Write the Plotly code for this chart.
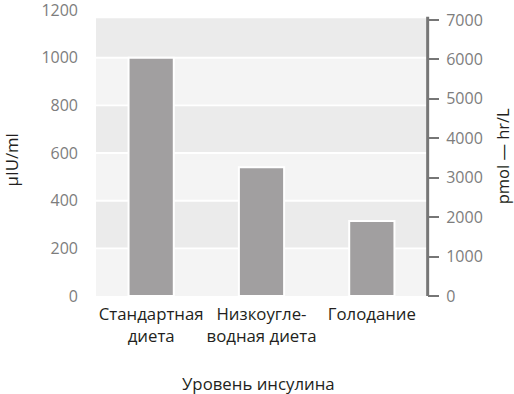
import plotly.graph_objects as go

categories = ["Стандартная<br>диета", "Низкоугле-<br>водная диета", "Голодание"]
insulin_uiu = [1000, 540, 315]
left_ticks = [0, 200, 400, 600, 800, 1000, 1200]
right_ticks = [0, 1000, 2000, 3000, 4000, 5000, 6000, 7000]

FONT = "Open Sans"
TICK_GREY = "#7d7d7d"
TEXT = "#231f20"

fig = go.Figure()
fig.add_trace(go.Bar(
    x=categories, y=insulin_uiu,
    marker=dict(color="#a19fa0", line=dict(color="white", width=2)),
    yaxis="y", showlegend=False,
))
# invisible trace to activate the right axis
fig.add_trace(go.Scatter(x=[categories[0]], y=[0], yaxis="y2", mode="markers",
                         marker=dict(opacity=0), showlegend=False, hoverinfo="skip"))

# background bands
band_colors = ["#f4f4f4", "#ebebeb"]
band_edges = [0, 200, 400, 600, 800, 1000, 1166]
shapes = []
for i in range(len(band_edges) - 1):
    y0 = band_edges[i] + (0 if i == 0 else 4)
    y1 = band_edges[i + 1] - (0 if i == len(band_edges) - 2 else 4)
    shapes.append(dict(type="rect", xref="paper", yref="y", x0=0, x1=1, y0=y0, y1=y1,
                       fillcolor=band_colors[i % 2], line=dict(width=0), layer="below"))
# right axis line
shapes.append(dict(type="line", xref="paper", yref="y2", x0=1.002, x1=1.002, y0=-40, y1=7080,
                   line=dict(color="#767676", width=3), layer="above"))

fig.update_layout(
    width=514, height=394,
    margin=dict(l=96, r=87, t=10, b=98, autoexpand=False),
    paper_bgcolor="white", plot_bgcolor="rgba(0,0,0,0)",
    bargap=0.59,
    font=dict(family=FONT, size=16, color=TEXT),
    shapes=shapes,
    xaxis=dict(showline=False, showgrid=False, zeroline=False, ticks="", automargin=False,
               tickfont=dict(size=16.8, color=TEXT), ticklabelstandoff=6),
    yaxis=dict(range=[0, 1200.5], tickvals=left_ticks, showgrid=False, zeroline=False,
               showline=False, ticks="", automargin=False, ticklabeloverflow="allow",
               tickfont=dict(size=16, color=TICK_GREY), ticklabelstandoff=17),
    yaxis2=dict(range=[0, 7000 * 286 / 276], overlaying="y", side="right",
                tickvals=right_ticks, showgrid=False, zeroline=False, showline=False,
                ticks="outside", ticklen=11, tickwidth=2, tickcolor="#767676", automargin=False,
                tickfont=dict(size=16, color=TICK_GREY), ticklabelstandoff=4),
    annotations=[
        dict(text="Уровень инсулина", xref="paper", yref="paper", x=0.49, y=-0.305,
             showarrow=False, xanchor="center", yanchor="middle", font=dict(size=16.8, color=TEXT)),
        dict(text="µIU/ml", xref="paper", yref="paper", x=-0.256, y=0.475, textangle=-90,
             showarrow=False, xanchor="center", yanchor="middle", font=dict(size=16.8, color=TEXT)),
        dict(text="pmol — hr/L", xref="paper", yref="paper", x=1.228, y=0.49, textangle=-90,
             showarrow=False, xanchor="center", yanchor="middle", font=dict(size=16.5, color=TEXT)),
    ],
)
fig.write_html("out.html", config={"displayModeBar": False},
               post_script="document.body.style.margin='0';")
